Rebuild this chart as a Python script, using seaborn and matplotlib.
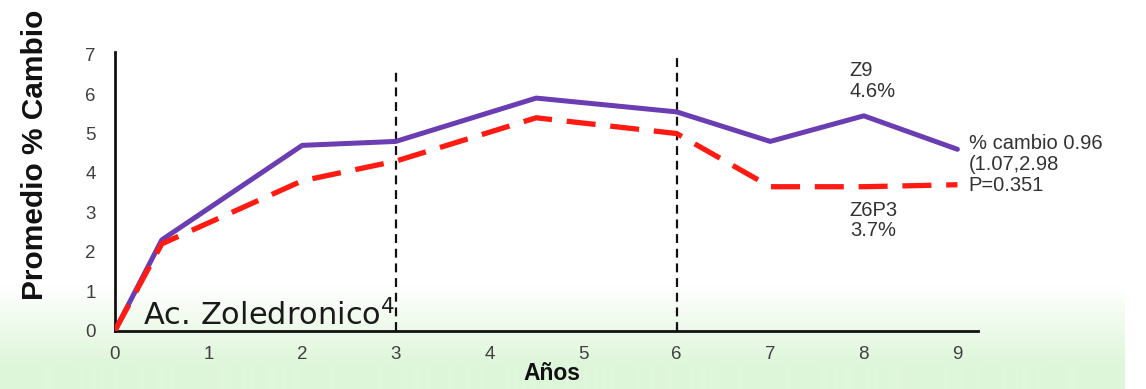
import numpy as np
import pandas as pd
import matplotlib
matplotlib.use("Agg")
import matplotlib.pyplot as plt
from matplotlib.patches import Rectangle
import seaborn as sns

# Mean % change in bone density over time, two dosing schedules
years = [0, 0.5, 2, 3, 4.5, 6, 7, 8, 9]
z9 = [0, 2.3, 4.7, 4.8, 5.9, 5.55, 4.8, 5.45, 4.6]
z6p3 = [0, 2.2, 3.8, 4.3, 5.4, 5.0, 3.65, 3.65, 3.7]

# Phase boundaries (year, top of marker line)
phase_years = [3, 6]
phase_tops = [6.7, 6.95]

x_ticks = list(range(0, 10))
y_ticks = list(range(0, 8))

sns.set_theme(style="white")
plt.rcParams["font.family"] = ["Liberation Sans", "DejaVu Sans"]
plt.rcParams["mathtext.fontset"] = "dejavusans"

W, H = 1146, 389
fig = plt.figure(figsize=(W / 100, H / 100), dpi=100)
fig.patch.set_facecolor("white")

# slide background: white fading into pale green at the bottom
bg = fig.add_axes([0, 0, 1125 / W, 1], zorder=-10)
grad = np.ones((H, 1, 3))
start = 285
for i in range(start, H):
    t = (i - start) / (H - start)
    t = min(1.0, t * 1.3)
    grad[i, 0] = (1 - t) * np.array([1, 1, 1]) + t * np.array([222, 246, 217]) / 255
bg.imshow(grad, aspect="auto", extent=[0, 1, 0, 1])
bg.set_axis_off()

ax = fig.add_axes([115 / W, (H - 330.5) / H, 863 / W, 278.5 / H])
ax.patch.set_alpha(0)

df = pd.DataFrame({"Años": years + years,
                   "valor": z9 + z6p3,
                   "grupo": ["Z9"] * len(years) + ["Z6P3"] * len(years)})

sns.lineplot(data=df[df["grupo"] == "Z9"], x="Años", y="valor", ax=ax,
             color="#6a3db3", lw=3.6, legend=False, zorder=3)
sns.lineplot(data=df[df["grupo"] == "Z6P3"], x="Años", y="valor", ax=ax,
             color="#ff1a12", lw=3.8, legend=False, zorder=4)
ax.lines[-1].set_dashes((5.5, 2.8))
ax.lines[-1].set_solid_capstyle("butt")

for xv, top in zip(phase_years, phase_tops):
    ax.plot([xv, xv], [0, top], color="#111111", lw=1.6,
            dashes=(4, 2.6), zorder=2)

ax.set_xlim(0, 9.22)
ax.set_ylim(0, 7.07)
ax.set_xticks(x_ticks)
ax.set_yticks(y_ticks)
ax.tick_params(axis="both", length=0, labelsize=13.5, colors="#404040")
ax.tick_params(axis="x", pad=11)
ax.tick_params(axis="y", pad=14)
ax.set_xlabel("")
ax.set_ylabel("")
for s in ["top", "right"]:
    ax.spines[s].set_visible(False)
for s in ["left", "bottom"]:
    ax.spines[s].set_color("#111111")
    ax.spines[s].set_linewidth(2.0)

fig.text(35 / W, 1 - 155 / H, "Promedio % Cambio", rotation=90,
         ha="center", va="center", fontsize=21.5, fontweight="bold",
         color="#111111")
fig.text(552 / W, 1 - 374 / H, "Años", ha="center", va="center",
         fontsize=16.5, fontweight="bold", color="#111111")

ax.text(0.3, 0.14, "Ac. Zoledronico$^{4}$", fontsize=22,
        family="DejaVu Sans", color="#1a1a1a", va="baseline", ha="left",
        zorder=5)

ann = dict(fontsize=14.5, color="#333333", ha="left", va="top",
           linespacing=1.12, clip_on=False)
ax.text(7.85, 6.84, "Z9\n4.6%", **ann)
ax.text(7.85, 3.3, "Z6P3\n3.7%", **ann)
t = ax.text(9.12, 4.99, "% cambio 0.96\n(1.07,2.98\nP=0.351", **ann)
clip = Rectangle((0, 0), 1125 / W, 1, transform=fig.transFigure)
t.set_clip_path(clip)
t.set_clip_on(True)

fig.savefig("out.png", dpi=100, facecolor="white")
